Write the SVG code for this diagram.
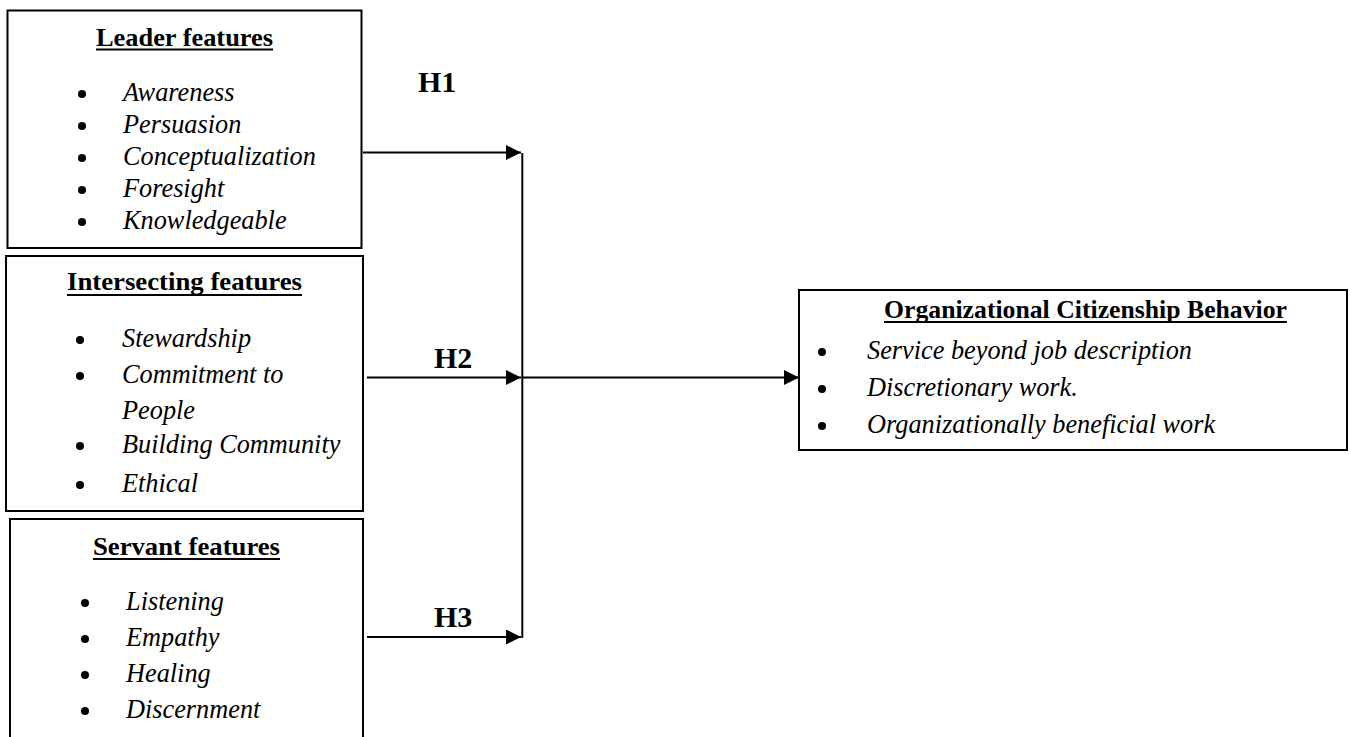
<svg xmlns="http://www.w3.org/2000/svg" width="1350" height="737" viewBox="0 0 1350 737">
<style>
.box{fill:#fff;stroke:#000;stroke-width:2}
.title{font-family:"Liberation Serif","Times New Roman",serif;font-weight:bold;font-size:26px;fill:#000}
.item{font-family:"Liberation Serif","Times New Roman",serif;font-style:italic;font-size:26.3px;fill:#000}
.hl{font-family:"Liberation Serif","Times New Roman",serif;font-weight:bold;font-size:30px;fill:#000}
.ul{stroke:#000;stroke-width:2}
.conn{fill:none;stroke:#000;stroke-width:2}
.dot{fill:#000}
</style>
<defs>
<marker id="arr" viewBox="0 0 10 10" refX="10" refY="5" markerUnits="userSpaceOnUse" markerWidth="15" markerHeight="15" orient="auto">
<path d="M0,0 L10,5 L0,10 z" fill="#000"/>
</marker>
</defs>
<rect width="1350" height="737" fill="#fff"/>
<g id="leader-features">
<rect class="box" x="7.5" y="10.5" width="354" height="237.5"/>
<text class="title" x="96" y="45.7" textLength="177" lengthAdjust="spacingAndGlyphs">Leader features</text>
<line class="ul" x1="96" y1="49.5" x2="273" y2="49.5"/>
<circle class="dot" cx="82" cy="94" r="4"/><text class="item" x="123" y="101">Awareness</text>
<circle class="dot" cx="82" cy="126" r="4"/><text class="item" x="123" y="133">Persuasion</text>
<circle class="dot" cx="82" cy="158" r="4"/><text class="item" x="123" y="165">Conceptualization</text>
<circle class="dot" cx="82" cy="190" r="4"/><text class="item" x="123" y="197">Foresight</text>
<circle class="dot" cx="82" cy="222" r="4"/><text class="item" x="123" y="229">Knowledgeable</text>
</g>
<g id="intersecting-features">
<rect class="box" x="6" y="256" width="357" height="255"/>
<text class="title" x="67" y="290" textLength="235" lengthAdjust="spacingAndGlyphs">Intersecting features</text>
<line class="ul" x1="67" y1="295" x2="302" y2="295"/>
<circle class="dot" cx="80" cy="340" r="4"/><text class="item" x="122" y="347">Stewardship</text>
<circle class="dot" cx="80" cy="376" r="4"/><text class="item" x="122" y="383">Commitment to</text>
<text class="item" x="122" y="419">People</text>
<circle class="dot" cx="80" cy="446" r="4"/><text class="item" x="122" y="453">Building Community</text>
<circle class="dot" cx="80" cy="485" r="4"/><text class="item" x="122" y="492">Ethical</text>
</g>
<g id="servant-features">
<rect class="box" x="10" y="519" width="353" height="240"/>
<text class="title" x="93" y="555" textLength="187" lengthAdjust="spacingAndGlyphs">Servant features</text>
<line class="ul" x1="93" y1="559" x2="280" y2="559"/>
<circle class="dot" cx="85" cy="603" r="4"/><text class="item" x="126" y="610">Listening</text>
<circle class="dot" cx="85" cy="639" r="4"/><text class="item" x="126" y="646">Empathy</text>
<circle class="dot" cx="85" cy="675" r="4"/><text class="item" x="126" y="682">Healing</text>
<circle class="dot" cx="85" cy="711" r="4"/><text class="item" x="126" y="718">Discernment</text>
</g>
<g id="ocb">
<rect class="box" x="799" y="290" width="548" height="160"/>
<text class="title" x="884" y="318" textLength="403" lengthAdjust="spacingAndGlyphs">Organizational Citizenship Behavior</text>
<line class="ul" x1="884" y1="322" x2="1287" y2="322"/>
<circle class="dot" cx="822" cy="352" r="4"/><text class="item" x="867" y="359">Service beyond job description</text>
<circle class="dot" cx="822" cy="389" r="4"/><text class="item" x="867" y="396">Discretionary work.</text>
<circle class="dot" cx="822" cy="426" r="4"/><text class="item" x="867" y="433">Organizationally beneficial work</text>
</g>
<g id="connectors">
<path class="conn" d="M363,152.5 H521" marker-end="url(#arr)"/>
<path class="conn" d="M367,377.5 H521" marker-end="url(#arr)"/>
<path class="conn" d="M367,637 H521" marker-end="url(#arr)"/>
<path class="conn" d="M522.3,153 V638"/>
<path class="conn" d="M523,377.5 H799" marker-end="url(#arr)"/>
<text class="hl" x="418" y="92">H1</text>
<text class="hl" x="434" y="368">H2</text>
<text class="hl" x="434" y="627">H3</text>
</g>
</svg>
